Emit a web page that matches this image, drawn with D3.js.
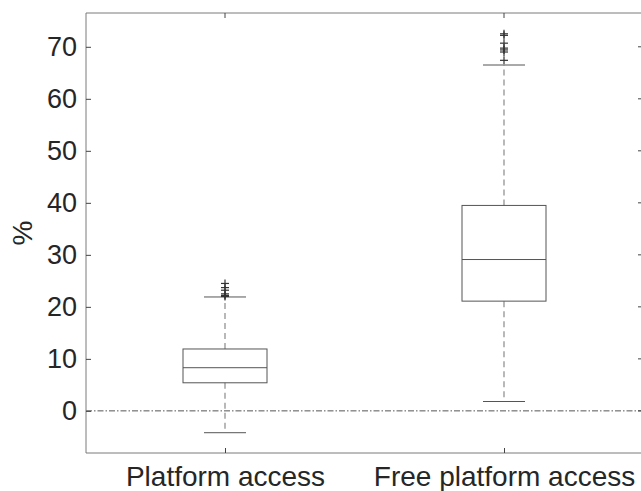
<!DOCTYPE html>
<html><head><meta charset="utf-8">
<script src="https://cdn.jsdelivr.net/npm/d3@7"></script>
<style>body{margin:0;background:#fff}svg{display:block}text{font-family:"Liberation Sans",Arial,sans-serif;fill:#262626}</style>
</head><body><svg id="c" width="641" height="491"></svg>
<script>
const categories = ["Platform access", "Free platform access"];
const q1 = [5.4, 21.1];
const median = [8.3, 29.1];
const q3 = [11.9, 39.5];
const whiskerLow = [-4.2, 1.8];
const whiskerHigh = [21.9, 66.5];
const outliers = [
  [22.0, 22.2, 22.5, 23.2, 23.7, 24.5],
  [67.4, 69.0, 69.4, 69.75, 70.7, 72.2, 72.5]
];
const yTicks = [0, 10, 20, 30, 40, 50, 60, 70];

const svg = d3.select("#c");
const L = 86, T = 13, R = 643, B = 453;
const y = d3.scaleLinear().domain([-8.1, 76.5]).range([B, T]);
const x = d3.scalePoint().domain(categories).range([225, 504]);
const boxHalf = 42, capHalf = 21;
const FONT = '"Liberation Sans",Arial,sans-serif';

// zero reference line
svg.append("line").attr("x1", L).attr("x2", R).attr("y1", y(0)).attr("y2", y(0))
  .attr("stroke", "#555").attr("stroke-width", 1).attr("stroke-dasharray", "6,2,1.5,2");

// axes frame
const frame = "#7a7a7a";
svg.append("line").attr("x1", L).attr("x2", L).attr("y1", T).attr("y2", B).attr("stroke", frame);
svg.append("line").attr("x1", L).attr("x2", R).attr("y1", B).attr("y2", B).attr("stroke", frame);
svg.append("line").attr("x1", L).attr("x2", R).attr("y1", T).attr("y2", T).attr("stroke", frame);
svg.append("line").attr("x1", R).attr("x2", R).attr("y1", T).attr("y2", B).attr("stroke", frame);

// y ticks
const yAxis = d3.axisLeft(y).tickValues(yTicks).tickSize(-5).tickPadding(9);
const ga = svg.append("g").attr("transform", `translate(${L},0)`).call(yAxis);
ga.attr("font-size", null).attr("font-family", null);
ga.select(".domain").remove();
ga.selectAll(".tick line").attr("stroke", "#444");
ga.selectAll(".tick text").style("font-size", "27px").attr("fill", "#262626").style("font-family", FONT);
// right ticks
yTicks.forEach(v => {
  svg.append("line").attr("x1", R - 5).attr("x2", R).attr("y1", y(v)).attr("y2", y(v)).attr("stroke", "#444");
});

// x ticks and labels
const xAxis = d3.axisBottom(x).tickSize(-5).tickPadding(13);
const gx = svg.append("g").attr("transform", `translate(0,${B})`).call(xAxis);
gx.attr("font-size", null).attr("font-family", null);
gx.select(".domain").remove();
gx.selectAll(".tick line").attr("stroke", "#444");
gx.selectAll(".tick text").style("font-size", "28px").attr("fill", "#262626").style("font-family", FONT);
// top ticks
categories.forEach(c => {
  svg.append("line").attr("x1", x(c)).attr("x2", x(c)).attr("y1", T).attr("y2", T + 5).attr("stroke", "#444");
});

// y label
svg.append("text").attr("transform", `translate(32,${(T + B) / 2}) rotate(-90)`)
  .attr("text-anchor", "middle").style("font-size", "28px").text("%");

// boxes
const boxColor = "#555", whColor = "#8a8a8a";
categories.forEach((c, i) => {
  const cx = x(c);
  const g = svg.append("g");
  g.append("line").attr("x1", cx).attr("x2", cx).attr("y1", y(q3[i])).attr("y2", y(whiskerHigh[i]))
    .attr("stroke", whColor).attr("stroke-width", 1.2).attr("stroke-dasharray", "6,4");
  g.append("line").attr("x1", cx).attr("x2", cx).attr("y1", y(q1[i])).attr("y2", y(whiskerLow[i]))
    .attr("stroke", whColor).attr("stroke-width", 1.2).attr("stroke-dasharray", "6,4");
  [whiskerLow[i], whiskerHigh[i]].forEach(v => {
    g.append("line").attr("x1", cx - capHalf).attr("x2", cx + capHalf).attr("y1", y(v)).attr("y2", y(v))
      .attr("stroke", boxColor).attr("stroke-width", 1);
  });
  g.append("rect").attr("x", cx - boxHalf).attr("width", 2 * boxHalf)
    .attr("y", y(q3[i])).attr("height", y(q1[i]) - y(q3[i]))
    .attr("fill", "none").attr("stroke", boxColor).attr("stroke-width", 1);
  g.append("line").attr("x1", cx - boxHalf).attr("x2", cx + boxHalf).attr("y1", y(median[i])).attr("y2", y(median[i]))
    .attr("stroke", boxColor).attr("stroke-width", 1);
  outliers[i].forEach(v => {
    g.append("line").attr("x1", cx - 4).attr("x2", cx + 4).attr("y1", y(v)).attr("y2", y(v)).attr("stroke", "#333").attr("stroke-width", 1.2);
    g.append("line").attr("x1", cx).attr("x2", cx).attr("y1", y(v) - 4).attr("y2", y(v) + 4).attr("stroke", "#333").attr("stroke-width", 1.2);
  });
});
</script></body></html>
